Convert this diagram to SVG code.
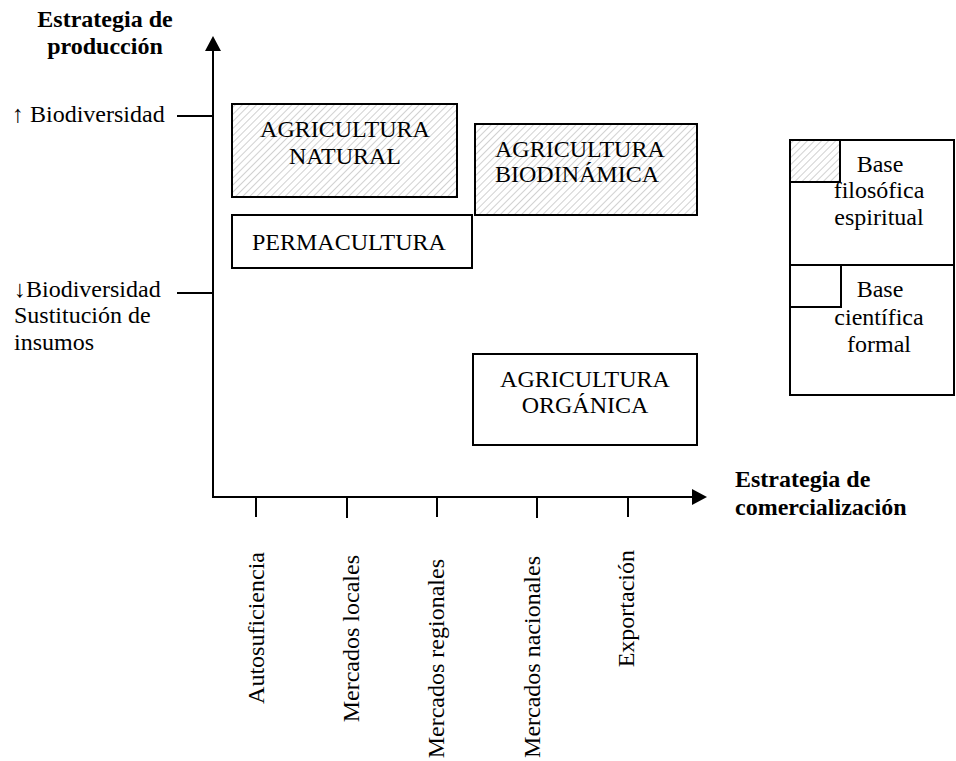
<svg xmlns="http://www.w3.org/2000/svg" width="956" height="761" viewBox="0 0 956 761">
  <style>
    text { font-family: "Liberation Serif", "Times New Roman", serif; font-size: 24px; fill: #000; }
    .title { font-weight: bold; }
    .box { fill: #fff; stroke: #000; stroke-width: 2; }
    .hatched { fill: url(#hatch); stroke: #000; stroke-width: 2; }
    .axis { stroke: #000; stroke-width: 2; fill: none; }
    .tick { stroke: #000; stroke-width: 2; }
  </style>
  <defs>
    <pattern id="hatch" patternUnits="userSpaceOnUse" width="5" height="5" patternTransform="rotate(45)">
      <rect width="5" height="5" fill="#fff"/>
      <line x1="0" y1="0" x2="0" y2="5" stroke="#cccccc" stroke-width="1.8"/>
    </pattern>
    <marker id="arrow" markerUnits="userSpaceOnUse" markerWidth="16" markerHeight="16" refX="5" refY="8" orient="auto">
      <path d="M0,0 L15,8 L0,16 Z" fill="#000"/>
    </marker>
  </defs>

  <rect width="956" height="761" fill="#fff"/>

  <!-- axes and tick marks -->
  <g id="connectors">
    <line class="axis" x1="213" y1="498" x2="213" y2="46" marker-end="url(#arrow)"/>
    <line class="axis" x1="212" y1="497" x2="697" y2="497" marker-end="url(#arrow)"/>
    <line class="tick" x1="177" y1="116" x2="213" y2="116"/>
    <line class="tick" x1="177" y1="293" x2="213" y2="293"/>
    <line class="tick" x1="256" y1="497" x2="256" y2="517"/>
    <line class="tick" x1="347" y1="497" x2="347" y2="518"/>
    <line class="tick" x1="437" y1="497" x2="437" y2="517"/>
    <line class="tick" x1="537" y1="497" x2="537" y2="518"/>
    <line class="tick" x1="628" y1="497" x2="628" y2="517"/>
  </g>

  <!-- axis titles -->
  <g id="y-title">
    <text class="title" x="105" y="27" text-anchor="middle">Estrategia de</text>
    <text class="title" x="105" y="54" text-anchor="middle">producción</text>
  </g>
  <g id="x-title">
    <text class="title" x="735" y="487">Estrategia de</text>
    <text class="title" x="735" y="515">comercialización</text>
  </g>

  <!-- vertical axis levels -->
  <g id="level-high">
    <text x="12" y="122">↑ Biodiversidad</text>
  </g>
  <g id="level-low">
    <text x="14" y="297">↓Biodiversidad</text>
    <text x="14" y="323">Sustitución de</text>
    <text x="14" y="350">insumos</text>
  </g>

  <!-- horizontal axis categories -->
  <g id="markets">
    <text transform="translate(264,552) rotate(-90)" text-anchor="end">Autosuficiencia</text>
    <text transform="translate(359,555) rotate(-90)" text-anchor="end">Mercados locales</text>
    <text transform="translate(444,559) rotate(-90)" text-anchor="end">Mercados regionales</text>
    <text transform="translate(540,556) rotate(-90)" text-anchor="end">Mercados nacionales</text>
    <text transform="translate(634,550) rotate(-90)" text-anchor="end">Exportación</text>
  </g>

  <!-- farming systems -->
  <g id="agricultura-natural">
    <rect class="hatched" x="232" y="104" width="225" height="93"/>
    <text x="345" y="137" text-anchor="middle">AGRICULTURA</text>
    <text x="345" y="164" text-anchor="middle">NATURAL</text>
  </g>
  <g id="permacultura">
    <rect class="box" x="232" y="215" width="240" height="53"/>
    <text x="252" y="250">PERMACULTURA</text>
  </g>
  <g id="agricultura-biodinamica">
    <rect class="hatched" x="475" y="124" width="222" height="91"/>
    <text x="495" y="157">AGRICULTURA</text>
    <text x="495" y="182">BIODINÁMICA</text>
  </g>
  <g id="agricultura-organica">
    <rect class="box" x="473" y="354" width="224" height="91"/>
    <text x="585" y="387" text-anchor="middle">AGRICULTURA</text>
    <text x="585" y="413" text-anchor="middle">ORGÁNICA</text>
  </g>

  <!-- legend -->
  <g id="legend">
    <rect class="box" x="790" y="140" width="164" height="255"/>
    <line class="axis" x1="790" y1="265" x2="954" y2="265"/>
    <rect class="hatched" x="790" y="140" width="50" height="42"/>
    <rect class="box" x="790" y="265" width="51" height="42"/>
    <text x="880" y="172" text-anchor="middle">Base</text>
    <text x="879" y="198" text-anchor="middle">filosófica</text>
    <text x="879" y="225" text-anchor="middle">espiritual</text>
    <text x="880" y="297" text-anchor="middle">Base</text>
    <text x="879" y="325" text-anchor="middle">científica</text>
    <text x="879" y="352" text-anchor="middle">formal</text>
  </g>
</svg>
